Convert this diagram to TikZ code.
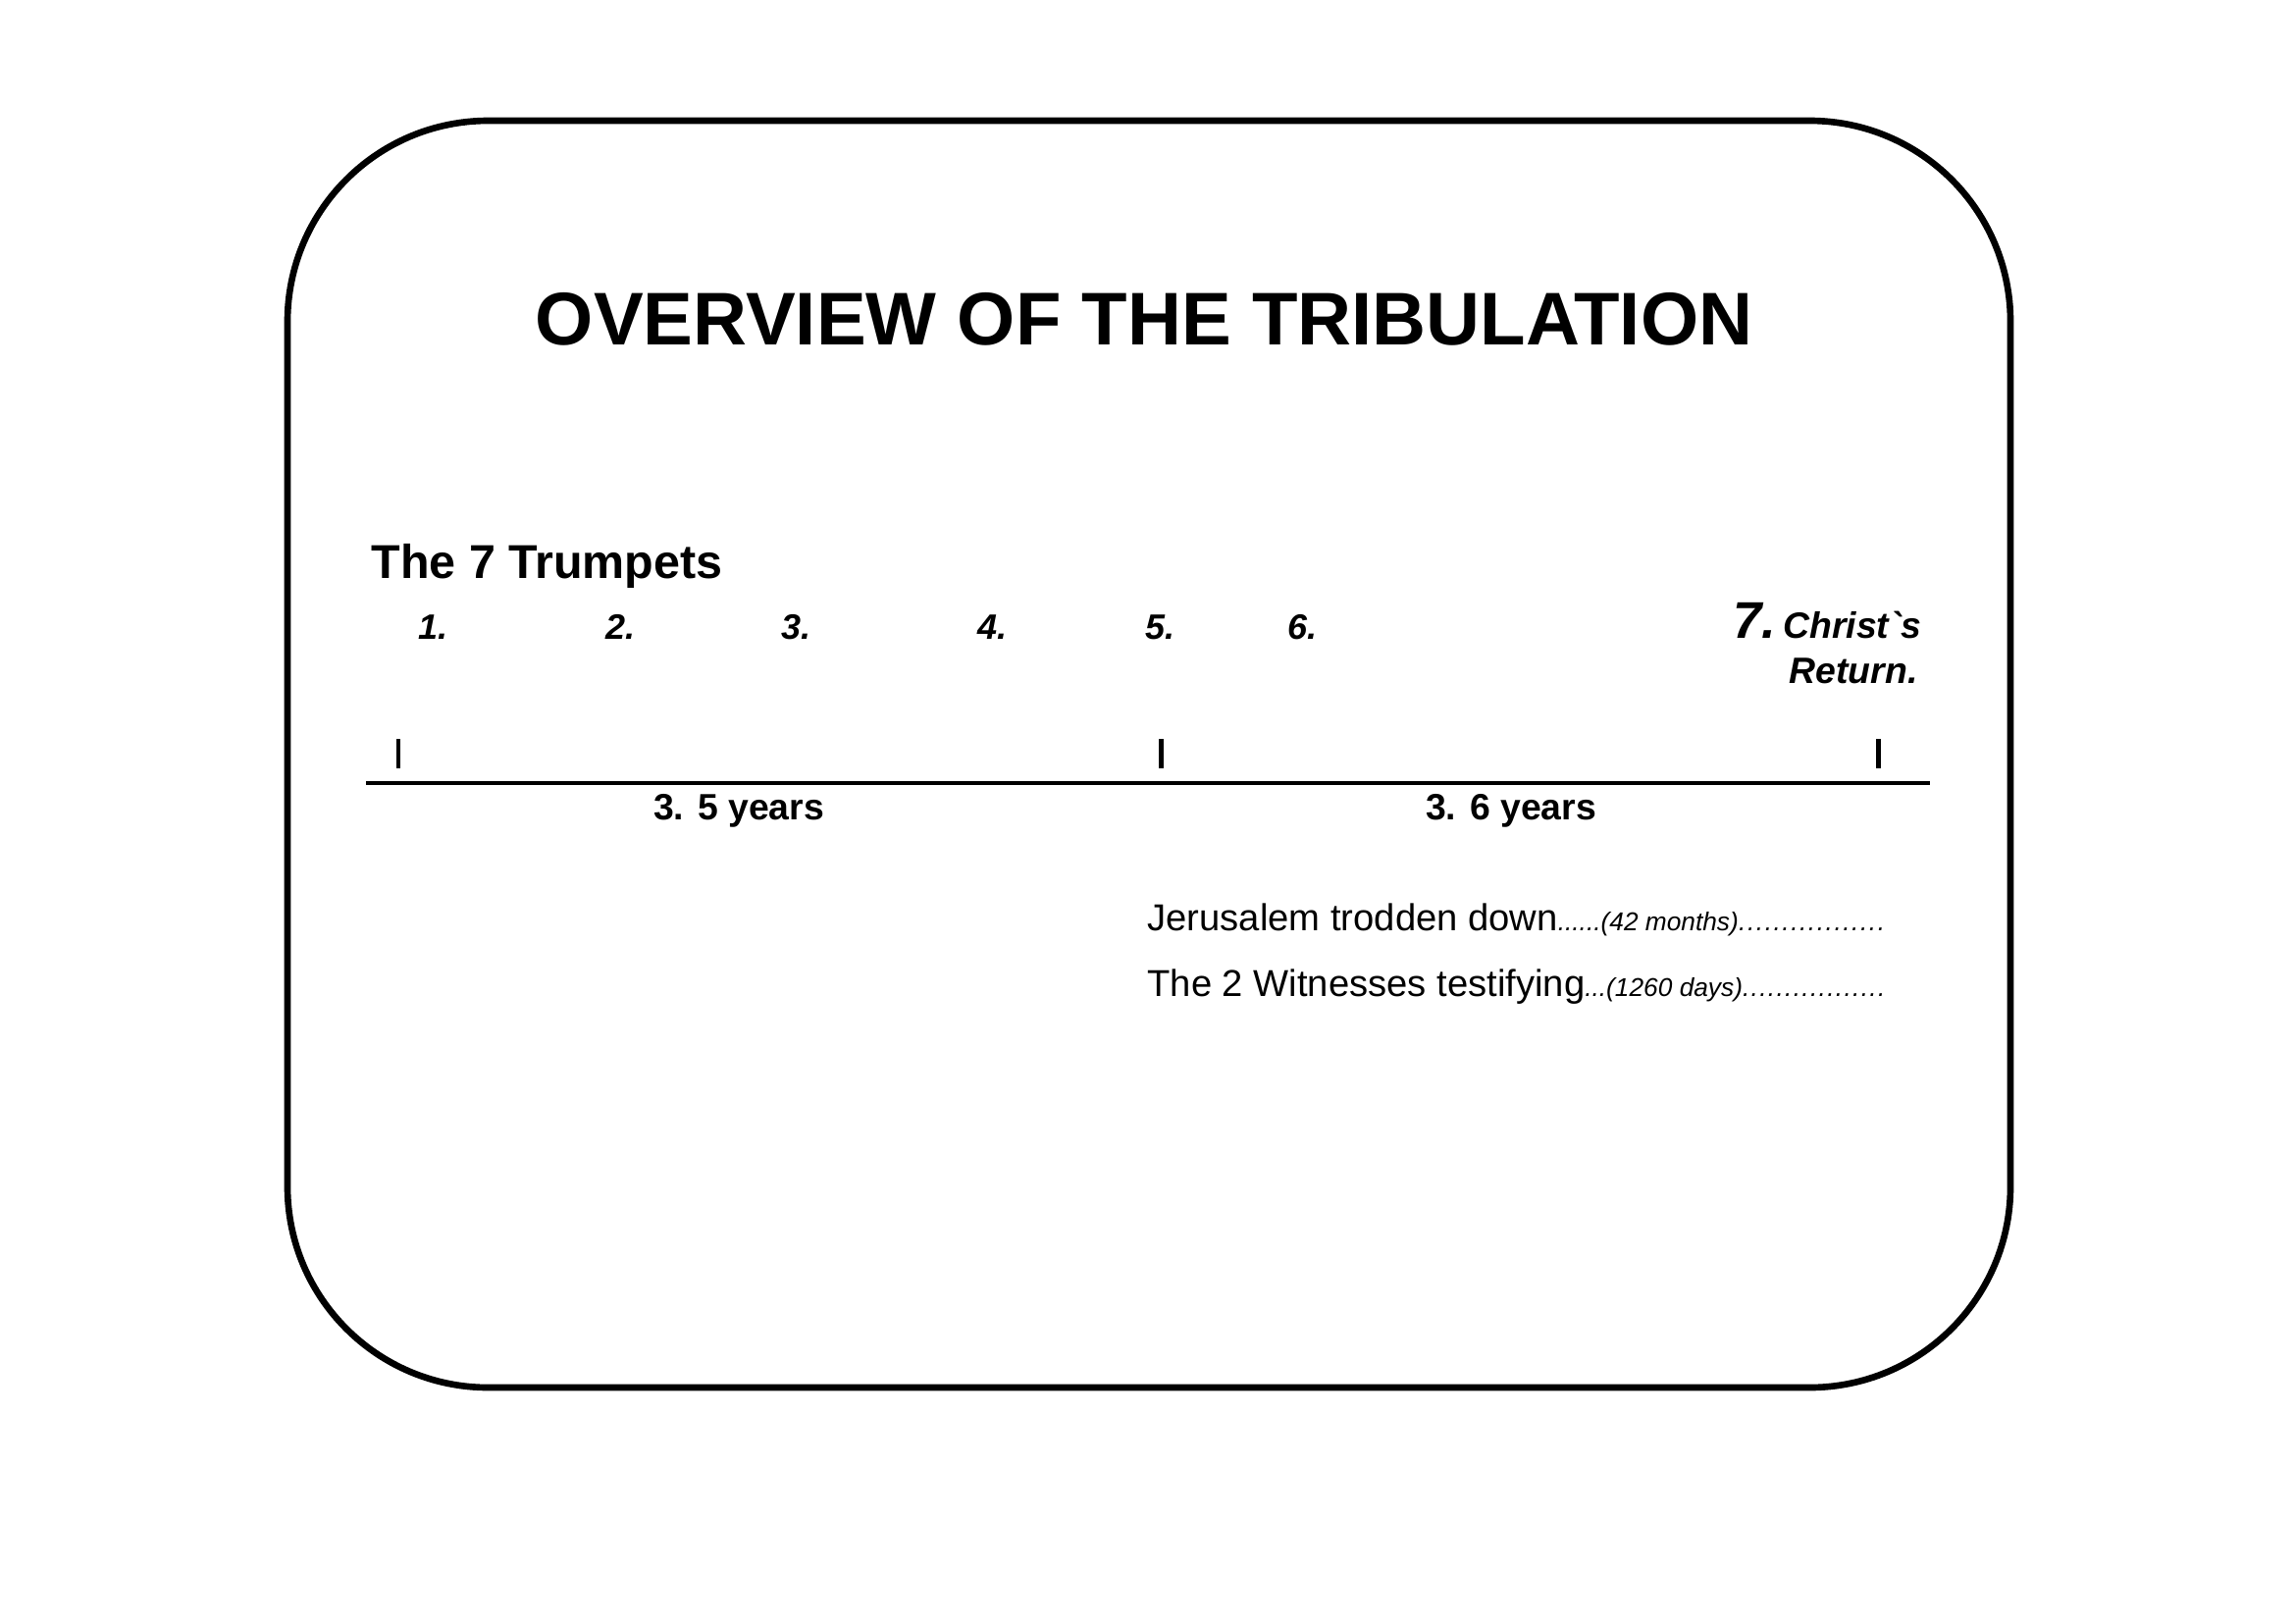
\documentclass[tikz,border=0pt]{standalone}
\usepackage{fontspec}
\setmainfont{Liberation Sans}[Ligatures=TeXOff]
\newlength\pxu
\setlength\pxu{0.127mm}
\newcommand\smallit{\fontsize{9.5}{11}\selectfont\itshape}
\tikzset{
  frame/.style={line width=2.4pt, rounded corners=26mm},
  axisline/.style={line width=1.6pt},
  tickmark/.style={line width=1.8pt},
  titletext/.style={anchor=base, inner sep=0pt, font=\fontsize{27.5}{32}\selectfont\bfseries},
  headtext/.style={anchor=base west, inner sep=0pt, font=\fontsize{17.5}{21}\selectfont\bfseries},
  num/.style={anchor=base, inner sep=0pt, font=\fontsize{13}{15}\selectfont\bfseries\itshape},
  bignum/.style={anchor=base east, inner sep=0pt, font=\fontsize{19}{22}\selectfont\bfseries\itshape},
  returntext/.style={anchor=base east, inner sep=0pt, font=\fontsize{13.5}{16}\selectfont\bfseries\itshape},
  years/.style={anchor=base, inner sep=0pt, font=\fontsize{13.5}{16}\selectfont\bfseries},
  period/.style={anchor=base west, inner sep=0pt, font=\fontsize{13.8}{16}\selectfont},
}
\begin{document}
\begin{tikzpicture}[x=0.127mm,y=-0.127mm]
\fill[white] (0,0) rectangle (2338,1654);
\useasboundingbox (0,0) rectangle (2338,1654);
% frame
\draw[frame] (293,123) rectangle (2049,1414);
% title
\node[titletext] (title) at (1166,351) {OVERVIEW OF THE TRIBULATION};
% trumpets
\node[headtext] (trumpets) at (378,589) {The 7 Trumpets};
\node[num] (n1) at (441,651) {1.};
\node[num] (n2) at (632,651) {2.};
\node[num] (n3) at (811,651) {3.};
\node[num] (n4) at (1011,651) {4.};
\node[num] (n5) at (1182,651) {5.};
\node[num] (n6) at (1327,651) {6.};
\node[returntext] (christ) at (1959,650) {Christ\char"0060 s};
\node[bignum] (n7) at ([xshift=-6\pxu]christ.base west) {7.};
\node[returntext] (return) at (1955,696) {Return.};
% timeline
\coordinate (ls) at (373,798);
\coordinate (le) at (1967,798);
\draw[axisline] (ls) -- (le);
\coordinate (t1a) at (406,753); \coordinate (t1b) at (406,783);
\coordinate (t2a) at (1183,753); \coordinate (t2b) at (1183,783);
\coordinate (t3a) at (1914,753); \coordinate (t3b) at (1914,783);
\draw[tickmark] (t1a) -- (t1b);
\draw[tickmark] (t2a) -- (t2b);
\draw[tickmark] (t3a) -- (t3b);
\node[years] (y1) at (753,835) {3. 5 years};
\node[years] (y2) at (1540,835) {3. 6 years};
% periods
\node[period] (jer) at (1169,948) {\makebox[753\pxu][l]{Jerusalem trodden down{\smallit......(42 months)}\xleaders\hbox{\smallit.\kern0.45pt}\hfill}};
\node[period] (wit) at (1169,1015) {\makebox[753\pxu][l]{The 2 Witnesses testifying{\smallit...(1260 days)}\xleaders\hbox{\smallit.\kern0.45pt}\hfill}};
\end{tikzpicture}
\end{document}
